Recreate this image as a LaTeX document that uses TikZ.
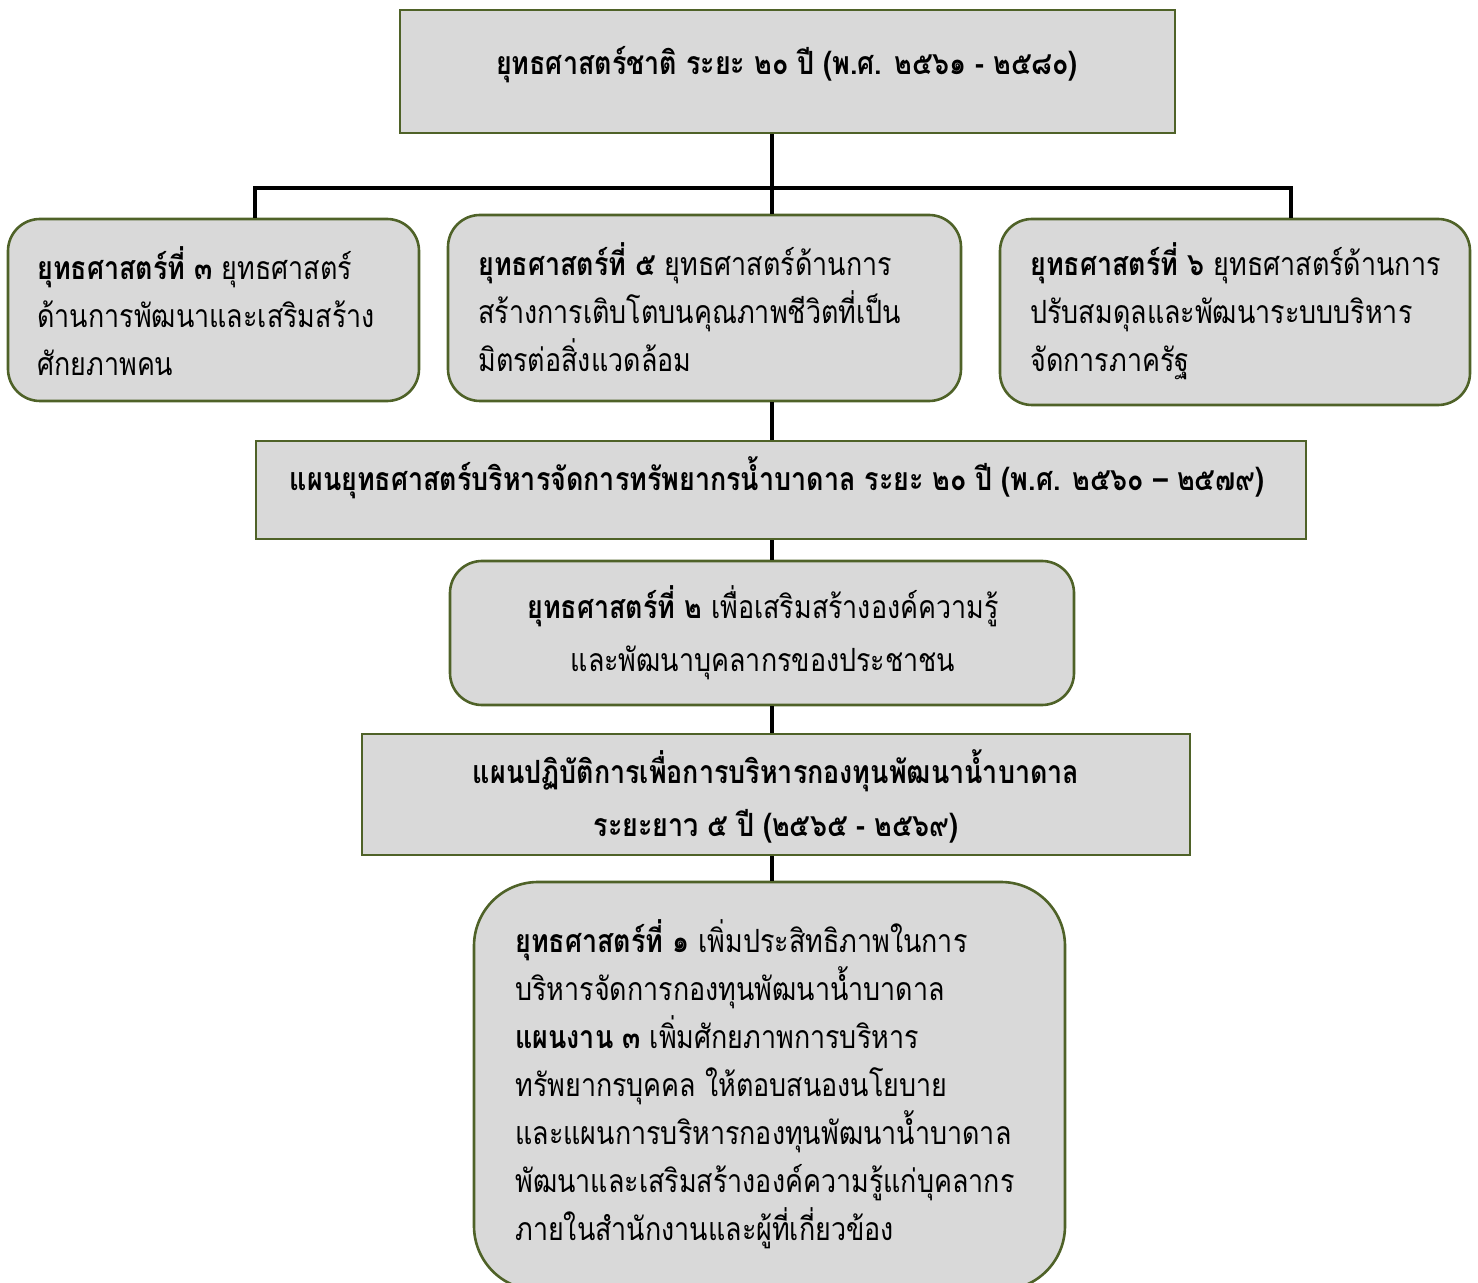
\documentclass[tikz,border=0pt]{standalone}
\usepackage{fontspec}
\newfontfamily\thaifont[Script=Thai, FakeStretch=0.84]{Loma}
\definecolor{boxfill}{HTML}{D9D9D9}
\definecolor{boxline}{HTML}{4F6228}
\tikzset{
  sqbox/.style={draw=boxline, line width=1.3pt, fill=boxfill, inner sep=0pt},
  rdbox/.style={sqbox, rounded corners=16pt},
  txt/.style={font=\thaifont\fontsize{16}{24}\selectfont, inner sep=0pt},
  conn/.style={draw=black, line width=1.6pt}
}
\begin{document}
\begin{tikzpicture}[x=0.5pt,y=-0.5pt]
\useasboundingbox (0,0) rectangle (1478,1283);
% boxes
\node[sqbox, minimum width=387.5pt, minimum height=61.5pt] (top) at (787.5,71.5) {};
\node[rdbox, minimum width=205.5pt, minimum height=91pt] (b1) at (213.5,310) {};
\node[rdbox, minimum width=256.5pt, minimum height=93pt] (b2) at (704.5,308) {};
\node[rdbox, minimum width=235pt, minimum height=93pt] (b3) at (1235,312) {};
\node[sqbox, minimum width=525pt, minimum height=49pt] (b4) at (781,490) {};
\node[rdbox, minimum width=312pt, minimum height=72pt] (b5) at (762,633) {};
\node[sqbox, minimum width=414pt, minimum height=60.5pt] (b6) at (776,794.5) {};
\node[sqbox, rounded corners=32pt, minimum width=295.5pt, minimum height=204pt] (b7) at (769.5,1086) {};
% connectors
\coordinate (j) at (772,188);
\coordinate (jl) at (255,188);
\coordinate (jr) at (1291,188);
\draw[conn] (top.south -| j) -- (j);
\draw[conn, line cap=rect] (jl) -- (jr);
\draw[conn] (jl) -- (jl |- b1.north);
\draw[conn] (j) -- (j |- b2.north);
\draw[conn] (jr) -- (jr |- b3.north);
\draw[conn] (b2.south -| j) -- (j |- b4.north);
\draw[conn] (b4.south -| j) -- (j |- b5.north);
\draw[conn] (b5.south -| j) -- (j |- b6.north);
\draw[conn] (b6.south -| j) -- (j |- b7.north);
% texts
\node[txt, font=\thaifont\bfseries\fontsize{16}{24}\selectfont] (t0) at (787,65) {ยุทธศาสตร์ชาติ ระยะ ๒๐ ปี (พ.ศ. ๒๕๖๑ - ๒๕๘๐)};
\node[txt, anchor=west, align=left] (t1) at (37,311) {\textbf{ยุทธศาสตร์ที่ ๓} ยุทธศาสตร์\\ด้านการพัฒนาและเสริมสร้าง\\ศักยภาพคน};
\node[txt, anchor=west, align=left] (t2) at (478,307) {\textbf{ยุทธศาสตร์ที่ ๕} ยุทธศาสตร์ด้านการ\\สร้างการเติบโตบนคุณภาพชีวิตที่เป็น\\มิตรต่อสิ่งแวดล้อม};
\node[txt, anchor=west, align=left] (t3) at (1030,311) {\textbf{ยุทธศาสตร์ที่ ๖} ยุทธศาสตร์ด้านการ\\ปรับสมดุลและพัฒนาระบบบริหาร\\จัดการภาครัฐ};
\node[txt, font=\thaifont\bfseries\fontsize{16}{24}\selectfont] (t4) at (777,478) {แผนยุทธศาสตร์บริหารจัดการทรัพยากรน้ำบาดาล ระยะ ๒๐ ปี (พ.ศ. ๒๕๖๐ – ๒๕๗๙)};
\node[txt, align=center, font=\thaifont\fontsize{16}{26.5}\selectfont] (t5) at (763,633) {\textbf{ยุทธศาสตร์ที่ ๒} เพื่อเสริมสร้างองค์ความรู้\\และพัฒนาบุคลากรของประชาชน};
\node[txt, align=center, font=\thaifont\bfseries\fontsize{16}{26.5}\selectfont] (t6) at (776,796) {แผนปฏิบัติการเพื่อการบริหารกองทุนพัฒนาน้ำบาดาล\\ระยะยาว ๕ ปี (๒๕๖๕ - ๒๕๖๙)};
\node[txt, anchor=west, align=left] (t7) at (515,1084) {\textbf{ยุทธศาสตร์ที่ ๑} เพิ่มประสิทธิภาพในการ\\บริหารจัดการกองทุนพัฒนาน้ำบาดาล\\\textbf{แผนงาน ๓} เพิ่มศักยภาพการบริหาร\\ทรัพยากรบุคคล ให้ตอบสนองนโยบาย\\และแผนการบริหารกองทุนพัฒนาน้ำบาดาล\\พัฒนาและเสริมสร้างองค์ความรู้แก่บุคลากร\\ภายในสำนักงานและผู้ที่เกี่ยวข้อง};
\end{tikzpicture}
\end{document}
